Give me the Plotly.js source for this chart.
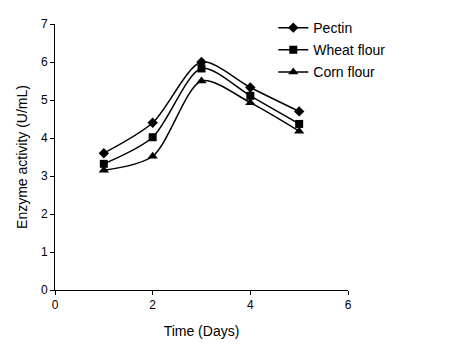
<!DOCTYPE html>
<html>
<head>
<meta charset="utf-8">
<script src="https://cdn.plot.ly/plotly-3.0.1.min.js"></script>
<style>html,body{margin:0;padding:0;background:#fff;}#chart{width:474px;height:358px;}</style>
</head>
<body>
<div id="chart"></div>
<script>
const days = [1, 2, 3, 4, 5];
const pectin = [3.60, 4.40, 6.00, 5.33, 4.70];
const wheatFlour = [3.32, 4.02, 5.83, 5.11, 4.37];
const cornFlour = [3.15, 3.52, 5.50, 4.93, 4.18];
const seriesNames = ["Pectin", "Wheat flour", "Corn flour"];
const symbols = ["diamond", "square", "triangle-up"];
const sizes = [8, 8, 9];

const allSeries = [pectin, wheatFlour, cornFlour];
const traces = allSeries.map((vals, i) => ({
  x: days, y: vals, name: seriesNames[i], legendgroup: 'g' + i,
  type: 'scatter', mode: 'lines+markers',
  line: {color: '#000', width: 1.5, shape: 'spline', smoothing: 0.8},
  marker: {color: '#000', symbol: symbols[i], size: sizes[i]}
}));

const layout = {
  width: 474, height: 358,
  margin: {l: 55, r: 126, t: 22, b: 68},
  paper_bgcolor: '#fff', plot_bgcolor: '#fff',
  font: {family: 'Liberation Sans, Arial, sans-serif', color: '#000', size: 12},
  showlegend: true,
  legend: {x: 0.745, y: 1.045, xanchor: 'left', yanchor: 'top', bgcolor: 'rgba(0,0,0,0)',
           font: {size: 14}, traceorder: 'grouped', tracegroupgap: 1, itemwidth: 30},
  xaxis: {range: [0, 6], dtick: 2, tick0: 0, showgrid: false, zeroline: false,
          showline: true, linecolor: '#000', linewidth: 1, ticks: 'outside', ticklen: 4,
          tickcolor: '#000', tickfont: {size: 12},
          title: {text: 'Time (Days)', font: {size: 14}, standoff: 14}},
  yaxis: {range: [0, 7], dtick: 1, tick0: 0, showgrid: false, zeroline: false,
          showline: true, linecolor: '#000', linewidth: 1, ticks: 'outside', ticklen: 4,
          tickcolor: '#000', tickfont: {size: 12},
          title: {text: 'Enzyme activity (U/mL)', font: {size: 14}, standoff: 10}}
};
Plotly.newPlot('chart', traces, layout, {displayModeBar: false, staticPlot: true});
</script>
</body>
</html>
